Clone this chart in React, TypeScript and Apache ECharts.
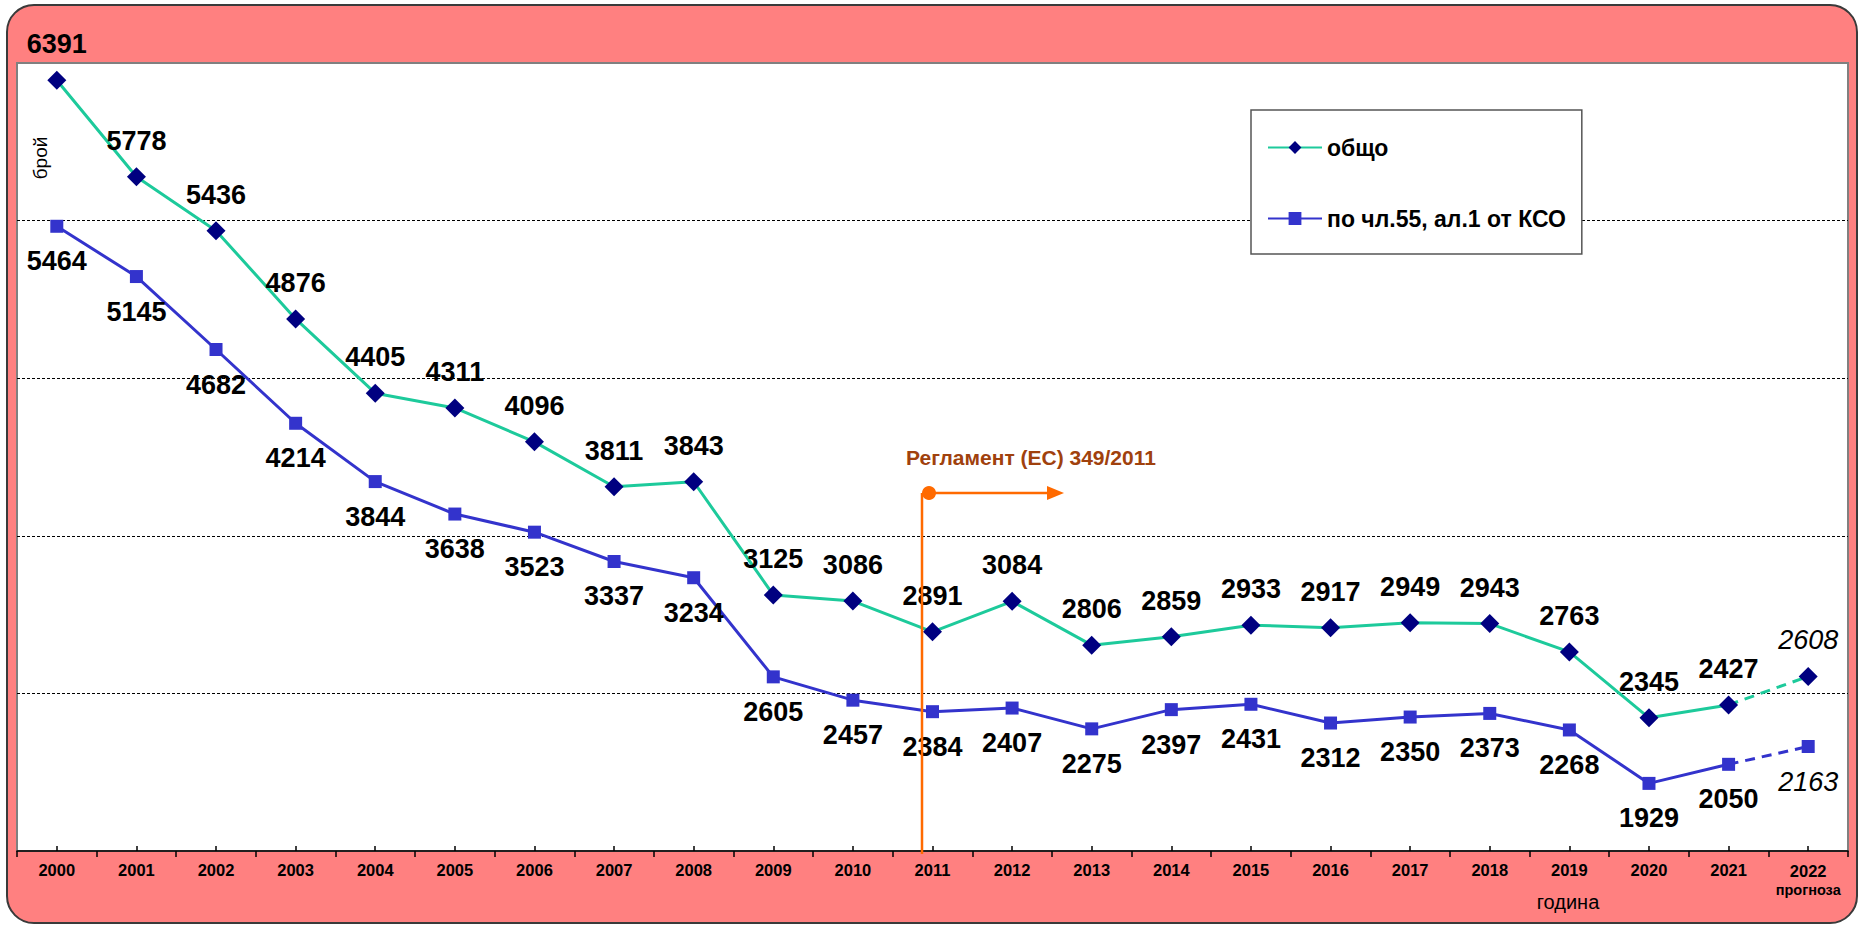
import React, { useEffect, useRef } from "react";
import * as echarts from "echarts";

const years = ["2000", "2001", "2002", "2003", "2004", "2005", "2006", "2007", "2008", "2009", "2010", "2011", "2012", "2013", "2014", "2015", "2016", "2017", "2018", "2019", "2020", "2021", "2022"];
const totalActual = [6391, 5778, 5436, 4876, 4405, 4311, 4096, 3811, 3843, 3125, 3086, 2891, 3084, 2806, 2859, 2933, 2917, 2949, 2943, 2763, 2345, 2427];
const totalForecast = 2608;
const art55Actual = [5464, 5145, 4682, 4214, 3844, 3638, 3523, 3337, 3234, 2605, 2457, 2384, 2407, 2275, 2397, 2431, 2312, 2350, 2373, 2268, 1929, 2050];
const art55Forecast = 2163;
const gridValues = [2500, 3500, 4500, 5500];
const seriesNames = ["общо", "по чл.55, ал.1 от КСО"];

const FONT = "Arial, 'Liberation Sans', sans-serif";
const GREEN = "#1dca9b";
const NAVY = "#000080";
const BLUE = "#3333cc";
const ORANGE = "#ff6a00";

export default function App() {
  const ref = useRef<HTMLDivElement>(null);
  useEffect(() => {
    if (!ref.current) return;
    const chart = echarts.init(ref.current, null, { renderer: "svg" });
    const n = years.length;
    const labelBase = { show: true, fontFamily: FONT, fontSize: 27, fontWeight: "bold", color: "#000" };

    const dashedData = (actual: number[], forecast: number) => {
      const arr: any[] = [];
      for (let i = 0; i < n - 2; i++) arr.push("-");
      arr.push({ value: actual[actual.length - 1], symbol: "none", label: { show: false } });
      arr.push({ value: forecast, label: { show: true, fontStyle: "italic", fontWeight: "normal" } });
      return arr;
    };

    chart.setOption({
      animation: false,
      grid: {
        left: 17, top: 63, right: 11, bottom: 75,
        show: true, backgroundColor: "#ffffff", borderColor: "#808080", borderWidth: 2,
      },
      legend: {
        left: 1251, top: 110, orient: "vertical",
        backgroundColor: "#ffffff", borderColor: "#555555", borderWidth: 1.5,
        padding: [26, 16, 24, 16], itemGap: 48, itemWidth: 54, itemHeight: 16,
        selectedMode: false,
        textStyle: { fontFamily: FONT, fontSize: 23, fontWeight: "bold", color: "#000" },
        data: seriesNames,
      },
      xAxis: [
        {
          type: "category", data: years, boundaryGap: true,
          axisLine: { lineStyle: { color: "#000", width: 1.5 } },
          axisTick: { show: true, interval: 0, length: 6, lineStyle: { color: "#000", width: 1.5 } },
          axisLabel: {
            interval: 0, margin: 10, fontFamily: FONT, fontSize: 16.5, fontWeight: "bold", color: "#000",
            formatter: (v: string, i: number) => (i === n - 1 ? `{a|${v}}\n{b|прогноза}` : v),
            rich: {
              a: { fontFamily: FONT, fontSize: 16.5, fontWeight: "bold", color: "#000", lineHeight: 19 },
              b: { fontFamily: FONT, fontSize: 14.5, fontWeight: "bold", color: "#000", lineHeight: 19 },
            },
          },
          splitLine: { show: false },
        },
        {
          type: "category", data: years, boundaryGap: true, position: "bottom",
          axisLine: { show: false },
          axisTick: { show: true, inside: true, alignWithLabel: true, length: 5, lineStyle: { color: "#000", width: 1.5 } },
          axisLabel: { show: false },
        },
      ],
      yAxis: {
        type: "value", min: 1500, max: 6500,
        axisLine: { show: false }, axisTick: { show: false }, axisLabel: { show: false }, splitLine: { show: false },
      },
      series: [
        {
          name: seriesNames[0], type: "line", data: [...totalActual, "-"],
          symbol: "diamond", symbolSize: 19,
          itemStyle: { color: NAVY }, lineStyle: { color: GREEN, width: 3 },
          label: { ...labelBase, position: "top", distance: 13 },
          z: 4,
          markLine: {
            silent: true, symbol: "none", label: { show: false },
            lineStyle: { color: "#000", type: [3, 2], width: 1 },
            data: gridValues.map((v) => ({ yAxis: v })),
            z: 1,
          },
        },
        {
          name: seriesNames[0], type: "line", data: dashedData(totalActual, totalForecast),
          symbol: "diamond", symbolSize: 19,
          itemStyle: { color: NAVY }, lineStyle: { color: GREEN, width: 3, type: [10, 7] },
          label: { ...labelBase, position: "top", distance: 13 },
          z: 4,
        },
        {
          name: seriesNames[1], type: "line", data: [...art55Actual, "-"],
          symbol: "rect", symbolSize: 13,
          itemStyle: { color: BLUE }, lineStyle: { color: BLUE, width: 3 },
          label: { ...labelBase, position: "bottom", distance: 15 },
          z: 3,
        },
        {
          name: seriesNames[1], type: "line", data: dashedData(art55Actual, art55Forecast),
          symbol: "rect", symbolSize: 13,
          itemStyle: { color: BLUE }, lineStyle: { color: BLUE, width: 3, type: [10, 7] },
          label: { ...labelBase, position: "bottom", distance: 15 },
          z: 3,
        },
      ],
      graphic: [
        {
          type: "text", x: 40, y: 158, rotation: Math.PI / 2, z: 50,
          style: { text: "брой", fontFamily: FONT, fontSize: 19, fill: "#000", align: "center", verticalAlign: "middle" },
        },
        {
          type: "text", x: 1568, y: 902, z: 50,
          style: { text: "година", fontFamily: FONT, fontSize: 20, fill: "#000", align: "center", verticalAlign: "middle" },
        },
        {
          type: "text", x: 1031, y: 457, z: 50,
          style: { text: "Регламент (ЕС) 349/2011", fontFamily: FONT, fontSize: 21, fontWeight: "bold", fill: "#a0410d", align: "center", verticalAlign: "middle" },
        },
        {
          type: "line", z: 50,
          shape: { x1: 922, y1: 493, x2: 922, y2: 854 },
          style: { stroke: ORANGE, lineWidth: 2.5 },
        },
        {
          type: "line", z: 50,
          shape: { x1: 929, y1: 493, x2: 1050, y2: 493 },
          style: { stroke: ORANGE, lineWidth: 2.5 },
        },
        {
          type: "polygon", z: 50,
          shape: { points: [[1047, 486], [1064, 493], [1047, 500]] },
          style: { fill: ORANGE },
        },
        {
          type: "circle", z: 51,
          shape: { cx: 929, cy: 493, r: 7 },
          style: { fill: ORANGE },
        },
      ],
    });
    return () => chart.dispose();
  }, []);

  return (
    <div style={{ position: "fixed", left: 0, top: 0, width: 1859, height: 926, overflow: "hidden" }}>
      <div
        style={{
          position: "absolute", left: 6, top: 4, width: 1848, height: 916,
          background: "#ff8080", border: "2px solid #3a3a3a", borderRadius: 28,
        }}
      />
      <div ref={ref} style={{ position: "absolute", left: 0, top: 0, width: 1859, height: 926 }} />
    </div>
  );
}
